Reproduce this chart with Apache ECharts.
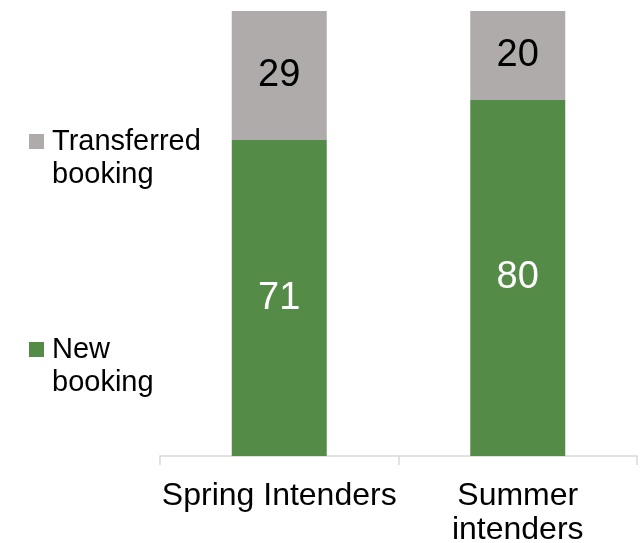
<!DOCTYPE html>
<html>
<head>
<meta charset="utf-8">
<script src="https://cdn.jsdelivr.net/npm/echarts@6/dist/echarts.min.js"></script>
<style>
  html, body { margin: 0; padding: 0; background: #fff; }
  #chart { width: 641px; height: 543px; }
</style>
</head>
<body>
<div id="chart"></div>
<script>
// data
const categories = ["Spring Intenders", "Summer\nintenders"];
const newBooking = [71, 80];
const transferredBooking = [29, 20];
const seriesNames = ["New booking", "Transferred booking"];

const FONT = "Liberation Sans, Arial, sans-serif";

// legend square sits beside the first line of the two-line text
const legendIcon = "path://M0,0h0.01v0.01h-0.01Z M18,66h0.01v0.01h-0.01Z M0,9H15V24H0Z";

let chart = echarts.init(document.getElementById("chart"));
let option = {
    animation: false,
    grid: { left: 160, right: 4, top: 11, bottom: 87, outerBoundsMode: "none" },
    legend: {
        orient: "vertical",
        left: 29,
        top: 125,
        padding: 0,
        itemGap: 142,
        itemWidth: 18,
        itemHeight: 66,
        icon: legendIcon,
        data: ["Transferred booking", "New booking"],
        formatter: name => name.replace(" ", "\n"),
        textStyle: { fontFamily: FONT, fontSize: 29, lineHeight: 33, color: "#000" }
    },
    xAxis: {
        type: "category",
        data: categories,
        axisLine: { lineStyle: { color: "#d9d9d9", width: 1.5 } },
        axisTick: { show: true, length: 9, lineStyle: { color: "#d9d9d9", width: 1.5 } },
        axisLabel: {
            fontFamily: FONT, fontSize: 32, lineHeight: 34, color: "#000",
            margin: 23, interval: 0
        }
    },
    yAxis: { type: "value", min: 0, max: 100, show: false },
    series: [
        {
            name: seriesNames[0],
            type: "bar",
            stack: "total",
            barWidth: 95,
            data: newBooking,
            itemStyle: { color: "#548B46" },
            label: { show: true, position: "inside", color: "#fff", fontFamily: FONT, fontSize: 38 }
        },
        {
            name: seriesNames[1],
            type: "bar",
            stack: "total",
            barWidth: 95,
            data: transferredBooking,
            itemStyle: { color: "#AFABAB" },
            label: { show: true, position: "inside", color: "#000", fontFamily: FONT, fontSize: 38 }
        }
    ]
};
chart.setOption(option);
</script>
</body>
</html>
